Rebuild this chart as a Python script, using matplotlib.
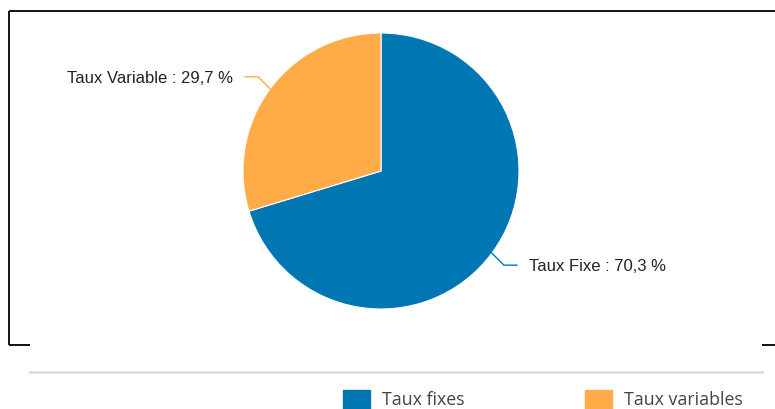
import numpy as np
import matplotlib.pyplot as plt
from matplotlib.patches import Rectangle

# data
labels = ['Taux Fixe', 'Taux Variable']
values = [70.3, 29.7]
legend_labels = ['Taux fixes', 'Taux variables']
colors = ['#0077b3', '#ffab48']

W, H = 775, 409
fig = plt.figure(figsize=(W / 100, H / 100), dpi=100)
ax = fig.add_axes([0, 0, 1, 1])
ax.set_xlim(0, W)
ax.set_ylim(0, H)
ax.set_aspect('equal')
ax.axis('off')

cx, cy, r = 381, H - 171, 138
wedges, _ = ax.pie(values, colors=colors, startangle=90, counterclock=False,
                   center=(cx, cy), radius=r, frame=True,
                   wedgeprops=dict(edgecolor='white', linewidth=0.8))
ax.set_xlim(0, W)
ax.set_ylim(0, H)
ax.axis('off')

# labels with connectors
for w, lab, val, col in zip(wedges, labels, values, colors):
    ang = np.deg2rad((w.theta1 + w.theta2) / 2)
    x0, y0 = cx + r * np.cos(ang), cy + r * np.sin(ang)
    side = 1 if np.cos(ang) > 0 else -1
    x1, y1 = x0 + side * 12, y0 + np.sign(np.sin(ang)) * 12
    x2 = x1 + side * 13
    ax.plot([x0, x1, x2], [y0, y1, y1], color=col, lw=1)
    txt = f'{lab} : {val:.1f} %'.replace('.', ',')
    ax.text(x2 + side * 12, y1 - 1.5, txt, ha='left' if side > 0 else 'right', va='center',
            fontsize=12, family='Liberation Sans', color='#222222')

# frame lines
k = dict(color='black', lw=1.3, solid_capstyle='butt')
ax.plot([9, W], [H - 11, H - 11], **k)
ax.plot([9, 9], [H - 11, H - 345], **k)
ax.plot([9, 30], [H - 345, H - 345], **k)
ax.plot([762, W], [H - 345, H - 345], **k)

# separator
ax.plot([30, 762], [H - 372, H - 372], color='#dddddd', lw=2)

# legend
for lx, lab, col in zip([343, 585], legend_labels, colors):
    ax.add_patch(Rectangle((lx, 0), 27, H - 390, color=col))
    ax.text(lx + 39, H - 400, lab, ha='left', va='center', fontsize=12.8,
            family='Open Sans', color='#444444')

fig.savefig('out.png', dpi=100)
